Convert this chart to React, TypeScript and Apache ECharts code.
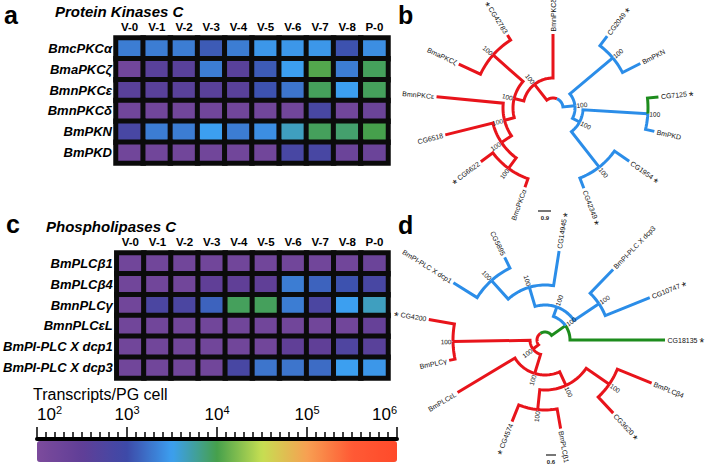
import React, { useEffect, useRef } from "react";
import * as echarts from "echarts";

// ---------- Data ----------
const columns = ["V-0", "V-1", "V-2", "V-3", "V-4", "V-5", "V-6", "V-7", "V-8", "P-0"];

const pkcGenes = ["BmcPKCα", "BmaPKCζ", "BmnPKCε", "BmnPKCδ", "BmPKN", "BmPKD"];
// log10(transcripts / PG cell)
const pkcLog = [
  [3.3, 3.3, 3.3, 3.1, 3.3, 3.45, 3.45, 3.45, 3.05, 3.4],
  [2.2, 2.6, 2.6, 3.3, 2.6, 3.1, 3.5, 4.05, 3.3, 3.95],
  [2.6, 2.6, 2.6, 2.6, 2.6, 3.05, 3.25, 3.95, 3.5, 3.95],
  [2.2, 2.2, 2.2, 2.2, 2.2, 2.2, 2.2, 2.85, 2.2, 2.3],
  [2.85, 3.3, 3.3, 3.5, 3.3, 3.4, 3.65, 3.95, 3.9, 4.0],
  [2.2, 2.2, 2.2, 2.2, 2.2, 2.2, 2.85, 2.85, 2.3, 2.3],
];

const plcGenes = ["BmPLCβ1", "BmPLCβ4", "BmnPLCγ", "BmnPLCεL", "BmPI-PLC X dcp1", "BmPI-PLC X dcp3"];
const plcLog = [
  [2.2, 2.2, 2.2, 2.2, 2.2, 2.2, 2.2, 2.2, 2.2, 2.3],
  [2.2, 2.2, 2.2, 2.5, 2.5, 2.5, 3.3, 3.15, 3.05, 2.85],
  [2.2, 2.8, 2.8, 3.15, 3.95, 3.95, 3.3, 2.8, 3.5, 3.65],
  [2.2, 2.2, 2.2, 2.2, 2.2, 2.2, 2.2, 2.2, 2.2, 2.4],
  [2.2, 2.2, 2.2, 2.2, 2.2, 2.2, 2.5, 2.5, 2.75, 2.6],
  [2.2, 2.2, 2.2, 2.2, 2.85, 3.25, 3.25, 3.2, 3.5, 3.45],
];

const scaleExponents = [2, 3, 4, 5, 6];

// Trees: [id, parent, branch radius, leaf angle (deg) or null, clade, star]
type TNode = [string, string, number, number | null, string, boolean];
const treePKC: TNode[] = [
  ["root", "", 10, null, "blue", false],
  ["R1", "root", 30, null, "red", false],
  ["BmnPKCδ", "R1", 74, 90, "red", false],
  ["R2", "R1", 40, null, "red", false],
  ["R3", "R2", 80, null, "red", false],
  ["CG42783", "R3", 86, 122, "red", true],
  ["BmaPKCζ", "R3", 104, 155, "red", false],
  ["R4", "R2", 50, null, "red", false],
  ["BmnPKCε", "R4", 117, 174.5, "red", false],
  ["R5", "R4", 62, null, "red", false],
  ["CG6518", "R5", 111, 194, "red", false],
  ["R6", "R5", 75, null, "red", false],
  ["CG6622", "R6", 90, 216.7, "red", true],
  ["BmcPKCα", "R6", 84, 250.5, "red", false],
  ["B1", "root", 22, null, "blue", false],
  ["B2", "B1", 78, null, "blue", false],
  ["CG2049", "B2", 90, 53, "blue", true],
  ["BmPKN", "B2", 98, 27, "blue", false],
  ["B3", "B1", 30, null, "blue", false],
  ["B4", "B3", 95, null, "blue", false],
  ["CG7125", "B4", 106, 6, "green", true],
  ["BmPKD", "B4", 104, -13, "blue", false],
  ["B5", "B3", 75, null, "blue", false],
  ["CG42349", "B5", 86, -69, "blue", true],
  ["CG1954", "B5", 93, -35, "blue", true],
];

const treePLC: TNode[] = [
  ["root", "", 8, null, "green", false],
  ["G1", "root", 25, null, "green", false],
  ["CG18135", "G1", 120, 0, "green", true],
  ["Bd1", "G1", 35, null, "blue", false],
  ["Bd2", "Bd1", 55, null, "blue", false],
  ["CG14945", "Bd2", 90, 81, "blue", true],
  ["Bd4", "Bd2", 80, null, "blue", false],
  ["BmPI-PLC X dcp1", "Bd4", 108, 148, "blue", false],
  ["CG5895", "Bd4", 92, 116, "blue", false],
  ["Bd3", "Bd1", 65, null, "blue", false],
  ["BmPI-PLC X dcp3", "Bd3", 98, 46, "blue", false],
  ["CG10747", "Bd3", 113, 22, "blue", true],
  ["Rd1", "root", 15, null, "red", false],
  ["Rd2", "Rd1", 92, null, "red", false],
  ["CG4200", "Rd2", 118, 170, "red", true],
  ["BmPLCγ", "Rd2", 98, 192, "red", false],
  ["Rd3", "Rd1", 35, null, "red", false],
  ["BmPLCεL", "Rd3", 102, 211, "red", false],
  ["Rd4", "Rd3", 50, null, "red", false],
  ["Rd5", "Rd4", 70, null, "red", false],
  ["CG4574", "Rd5", 88, 248, "red", true],
  ["BmPLCβ1", "Rd5", 90, 280, "red", false],
  ["Rd6", "Rd4", 78, null, "red", false],
  ["CG3620", "Rd6", 100, 313, "red", true],
  ["BmPLCβ4", "Rd6", 115, 338, "red", false],
];

// ---------- Styles ----------
const FONT = "Liberation Sans, Arial, sans-serif";
const CLADE_COLORS: Record<string, string> = { red: "#e8141b", blue: "#2b8de8", green: "#1d8c1d" };
const SCALE_COLORS = ["#7c4b9c", "#603f97", "#3d4aa8", "#3c9ff0", "#46a04c", "#c6df52", "#f7a052", "#ff5a35", "#ff4a2a"];

type Elem =
  | { kind: "line"; pts: [number, number][]; color: string }
  | { kind: "text"; r: number; a: number; text: string; leaf: boolean; star: boolean };

function buildTree(nodes: TNode[]): Elem[] {
  const map: Record<string, any> = {};
  nodes.forEach((n) => (map[n[0]] = { id: n[0], parent: n[1], r: n[2], angle: n[3], color: CLADE_COLORS[n[4]], star: n[5], children: [] }));
  let root: any = null;
  nodes.forEach((n) => {
    if (n[1]) map[n[1]].children.push(map[n[0]]);
    else root = map[n[0]];
  });
  const ang = (n: any): number => {
    if (n.children.length === 0) return n.angle;
    const a = n.children.map(ang);
    n.angle = a.reduce((s: number, v: number) => s + v, 0) / a.length;
    return n.angle;
  };
  ang(root);
  const elems: Elem[] = [];
  const texts: Elem[] = [];
  const walk = (n: any) => {
    n.children.forEach((c: any) => {
      const pts: [number, number][] = [];
      const d = c.angle - n.angle;
      const steps = Math.max(1, Math.ceil(Math.abs(d) / 2));
      for (let i = 0; i <= steps; i++) pts.push([n.r, n.angle + (d * i) / steps]);
      pts.push([c.r, c.angle]);
      elems.push({ kind: "line", pts, color: c.color });
      walk(c);
    });
    if (n.children.length === 0) {
      texts.push({ kind: "text", r: n.r + 2.5, a: n.angle, text: n.id, leaf: true, star: n.star });
    } else if (n !== root) {
      texts.push({ kind: "text", r: n.r + 7, a: n.angle, text: "100", leaf: false, star: false });
    }
  };
  walk(root);
  return elems.concat(texts);
}

const norm = (a: number) => ((a % 360) + 360) % 360;

function treeSeries(nodes: TNode[], polarIndex: number) {
  const elems = buildTree(nodes);
  return {
    type: "custom",
    coordinateSystem: "polar",
    polarIndex,
    silent: true,
    data: elems.map((_, i) => [0, 0, i]),
    renderItem: (_p: any, api: any) => {
      const el = elems[api.value(2)];
      if (el.kind === "line") {
        const points = el.pts.map(([r, a]) => api.coord([r, norm(a)]));
        return {
          type: "polyline",
          shape: { points },
          style: { stroke: el.color, lineWidth: 3, fill: null, lineJoin: "miter" },
        };
      }
      const [x, y] = api.coord([el.r, norm(el.a)]);
      const rad = (el.a * Math.PI) / 180;
      const right = Math.cos(rad) > -0.01;
      const rotation = right ? rad : rad - Math.PI;
      let text = el.text;
      if (el.leaf) {
        text = el.star ? (right ? `{t|${el.text}} {s|*}` : `{s|*} {t|${el.text}}`) : `{t|${el.text}}`;
      }
      return {
        type: "text",
        x,
        y,
        rotation,
        style: {
          text,
          fontFamily: FONT,
          fontSize: el.leaf ? 7 : 6.5,
          fill: "#111",
          align: el.leaf ? (right ? "left" : "right") : "center",
          verticalAlign: "middle",
          rich: {
            t: { fontSize: 7, fontFamily: FONT, fill: "#111" },
            s: { fontSize: 12, fontFamily: FONT, fill: "#111", padding: [5, 0, 0, 0] },
          },
        },
      };
    },
  };
}

function heatData(vals: number[][]) {
  const out: number[][] = [];
  vals.forEach((row, r) => row.forEach((v, c) => out.push([c, r, v])));
  return out;
}

export default function App() {
  const ref = useRef<HTMLDivElement>(null);
  useEffect(() => {
    const chart = echarts.init(ref.current!, null, { renderer: "svg" });
    const heatGrid = (top: number) => ({
      left: 116,
      top,
      width: 272,
      height: 125,
      show: true,
      backgroundColor: "#0b0b0b",
      borderColor: "#0b0b0b",
      borderWidth: 3,
    });
    const xCat = (gridIndex: number) => ({
      type: "category",
      gridIndex,
      data: columns,
      position: "top",
      axisLine: { show: false },
      axisTick: { show: false },
      splitLine: { show: false },
      axisLabel: { color: "#000", fontFamily: FONT, fontWeight: "bold", fontSize: 11.5, margin: 5 },
    });
    const yCat = (gridIndex: number, data: string[]) => ({
      type: "category",
      gridIndex,
      data,
      inverse: true,
      axisLine: { show: false },
      axisTick: { show: false },
      splitLine: { show: false },
      axisLabel: { color: "#000", fontFamily: FONT, fontWeight: "bold", fontStyle: "italic", fontSize: 13, margin: 4 },
    });
    const heatItem = { borderColor: "#0b0b0b", borderWidth: 5 };
    chart.setOption({
      animation: false,
      backgroundColor: "#fff",
      grid: [
        heatGrid(38),
        heatGrid(253),
        { left: 37, top: 437, width: 360, height: 2, show: false },
      ],
      xAxis: [
        xCat(0),
        xCat(1),
        {
          type: "value",
          gridIndex: 2,
          min: 2,
          max: 6,
          interval: 1,
          position: "top",
          axisLine: { show: true, lineStyle: { color: "#000", width: 4 } },
          axisTick: { show: true, length: 12, lineStyle: { color: "#000", width: 1.5 } },
          minorTick: { show: true, splitNumber: 10, length: 7, lineStyle: { color: "#000", width: 1.5 } },
          splitLine: { show: false },
          minorSplitLine: { show: false },
          axisLabel: {
            margin: 13,
            formatter: (v: number) => `{b|10}{s|${v}}`,
            rich: {
              b: { fontSize: 17, fontFamily: FONT, color: "#000" },
              s: { fontSize: 11, fontFamily: FONT, color: "#000", padding: [0, 0, 9, 0] },
            },
            alignMinLabel: "left",
            alignMaxLabel: "right",
            customValues: scaleExponents,
          },
        },
      ],
      yAxis: [yCat(0, pkcGenes), yCat(1, plcGenes), { type: "value", gridIndex: 2, show: false }],
      polar: [
        { center: [553, 108], radius: 130 },
        { center: [545, 340], radius: 130 },
      ],
      radiusAxis: [0, 1].map((i) => ({
        polarIndex: i,
        type: "value",
        min: 0,
        max: 130,
        show: false,
        axisLine: { show: false },
        axisLabel: { show: false },
        axisTick: { show: false },
        splitLine: { show: false },
      })),
      angleAxis: [0, 1].map((i) => ({
        polarIndex: i,
        type: "value",
        min: 0,
        max: 360,
        startAngle: 0,
        clockwise: false,
        show: false,
        axisLine: { show: false },
        axisLabel: { show: false },
        axisTick: { show: false },
        splitLine: { show: false },
      })),
      visualMap: {
        type: "continuous",
        min: 2,
        max: 6,
        seriesIndex: [0, 1],
        orient: "horizontal",
        left: 37,
        top: 441,
        itemWidth: 21,
        itemHeight: 360,
        padding: 0,
        calculable: false,
        hoverLink: false,
        text: null,
        showLabel: false,
        inRange: { color: SCALE_COLORS },
      },
      series: [
        { type: "heatmap", xAxisIndex: 0, yAxisIndex: 0, data: heatData(pkcLog), itemStyle: heatItem, silent: true },
        { type: "heatmap", xAxisIndex: 1, yAxisIndex: 1, data: heatData(plcLog), itemStyle: heatItem, silent: true },
        treeSeries(treePKC, 0),
        treeSeries(treePLC, 1),
      ],
      graphic: [
        { type: "text", left: 4, top: 2, style: { text: "a", font: `bold 25px ${FONT}`, fill: "#000" } },
        { type: "text", left: 398, top: 2, style: { text: "b", font: `bold 25px ${FONT}`, fill: "#000" } },
        { type: "text", left: 6, top: 211, style: { text: "c", font: `bold 25px ${FONT}`, fill: "#000" } },
        { type: "text", left: 398, top: 212, style: { text: "d", font: `bold 25px ${FONT}`, fill: "#000" } },
        { type: "text", left: 55, top: 4, style: { text: "Protein Kinases C", font: `italic bold 15px ${FONT}`, fill: "#000" } },
        { type: "text", left: 46, top: 219, style: { text: "Phospholipases C", font: `italic bold 15px ${FONT}`, fill: "#000" } },
        { type: "text", left: 33, top: 386, style: { text: "Transcripts/PG cell", font: `16px ${FONT}`, fill: "#000" } },
        { type: "line", shape: { x1: 538, y1: 211, x2: 551, y2: 211 }, style: { stroke: "#777", lineWidth: 2 } },
        { type: "text", x: 545, y: 218, style: { text: "0.9", font: `bold 6px ${FONT}`, fill: "#222", align: "center", verticalAlign: "middle" } },
        { type: "line", shape: { x1: 546, y1: 455, x2: 556, y2: 455 }, style: { stroke: "#777", lineWidth: 2 } },
        { type: "text", x: 551, y: 462, style: { text: "0.6", font: `bold 6px ${FONT}`, fill: "#222", align: "center", verticalAlign: "middle" } },
      ],
    });
    return () => chart.dispose();
  }, []);
  return <div ref={ref} style={{ position: "fixed", left: 0, top: 0, width: 709, height: 466 }} />;
}
